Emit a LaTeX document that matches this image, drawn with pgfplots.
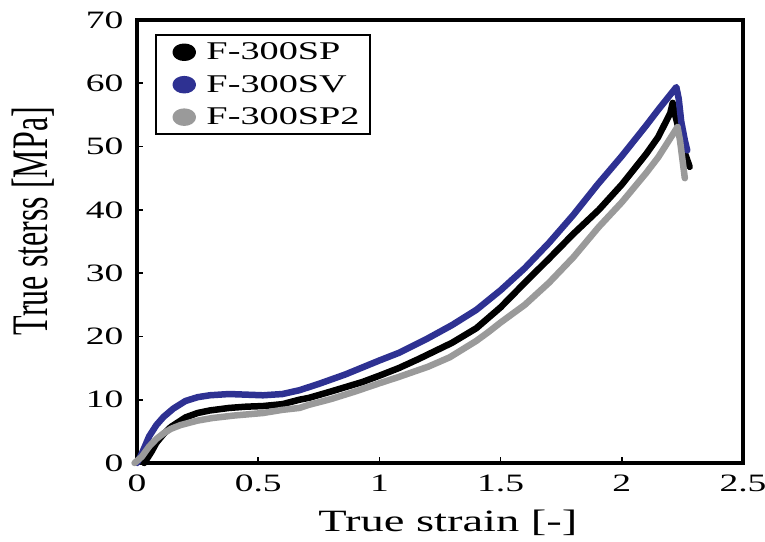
\documentclass[border=0pt]{standalone}
\usepackage{graphicx}
\usepackage{fontspec}
\setmainfont{Liberation Serif}[FakeStretch=1.5]
\newfontfamily\plainserif{Liberation Serif}
\usepackage{pgfplots}
\pgfplotsset{compat=1.18}
\definecolor{svblue}{HTML}{2E3192}
\definecolor{spgrey}{HTML}{9A9A9A}
\begin{document}
\begin{tikzpicture}
\useasboundingbox (-137pt,-78pt) rectangle (628pt,463pt);
\begin{axis}[
  scale only axis, width=606pt, height=443pt,
  at={(0,0)}, anchor=south west,
  xmin=0, xmax=2.5, ymin=0, ymax=70,
  xtick={0,0.5,1,1.5,2,2.5}, ytick={0,10,...,70},
  xtick pos=left, ytick pos=left, tick align=inside,
  major tick length=6pt,
  every tick/.style={line width=1.6pt, black},
  axis line style={line width=3.2pt},
  clip=false,
  /pgf/number format/assume math mode=true,
  tick label style={font=\fontsize{25}{25}\selectfont},
  yticklabel style={xshift=-10pt},
  xticklabel style={yshift=-8pt},
  xlabel={True strain [-]},
  xlabel style={font=\fontsize{31}{31}\selectfont, at={(axis description cs:0.513,-0.135)}, anchor=center},
  ylabel={\scalebox{1}[1.6]{\plainserif\fontsize{32}{32}\selectfont True sterss [MPa]}},
  ylabel style={at={(axis description cs:-0.172,0.546)}, anchor=center, rotate=0},
  legend image code/.code={\path (0pt,0pt) (34pt,0pt);\fill (17pt,0pt) ellipse [x radius=8.5pt, y radius=5.5pt];},
  legend style={draw=black, line width=2pt, at={(axis description cs:0,1)}, anchor=north west,
    xshift=18pt, yshift=-14pt, font=\fontsize{25.5}{25.5}\selectfont, row sep=10pt,
    inner xsep=8pt, inner ysep=6pt, nodes={inner sep=2pt}},
  legend cell align=left,
  every axis plot/.append style={line width=6.5pt, line join=round, line cap=round},
]
\addplot[black] coordinates {
(0.03,0) (0.06,1.8) (0.08,3.2) (0.11,4.6) (0.14,5.7) (0.2,7.2) (0.25,7.9) (0.3,8.3) (0.38,8.7) (0.45,8.9) (0.52,9.0) (0.6,9.3) (0.67,10.0) (0.71,10.3) (0.8,11.3) (0.93,12.8) (1.0,13.8) (1.08,15.0) (1.16,16.4) (1.3,19.0) (1.4,21.3) (1.5,24.6) (1.6,28.5) (1.7,32.3) (1.8,36.2) (1.905,40.0) (2.0,44.0) (2.1,48.8) (2.15,51.5) (2.2,55.3) (2.21,56.9) (2.22,55) (2.24,52) (2.26,49) (2.28,46.8)
};
\addlegendentry{F-300SP}
\addplot[svblue] coordinates {
(0,0) (0.02,1.5) (0.05,4.2) (0.08,6.0) (0.11,7.3) (0.15,8.6) (0.2,9.8) (0.25,10.4) (0.3,10.7) (0.38,10.9) (0.45,10.8) (0.52,10.7) (0.6,10.9) (0.67,11.5) (0.75,12.5) (0.86,14.0) (1.0,16.2) (1.08,17.4) (1.2,19.7) (1.3,21.8) (1.4,24.2) (1.5,27.3) (1.6,30.8) (1.7,34.8) (1.8,39.2) (1.9,44.0) (2.0,48.5) (2.1,53.3) (2.15,55.8) (2.2,58.2) (2.225,59.4) (2.235,57.5) (2.245,54) (2.26,51) (2.27,49.4)
};
\addlegendentry{F-300SV}
\addplot[spgrey] coordinates {
(-0.01,0) (0.02,1.0) (0.05,2.6) (0.08,3.8) (0.11,4.7) (0.14,5.4) (0.18,6.0) (0.25,6.7) (0.31,7.1) (0.4,7.5) (0.52,7.9) (0.6,8.4) (0.67,8.7) (0.71,9.2) (0.8,10.1) (0.9,11.3) (1.0,12.6) (1.08,13.6) (1.2,15.2) (1.29,16.7) (1.4,19.3) (1.45,20.7) (1.5,22.2) (1.6,25.0) (1.7,28.5) (1.8,32.5) (1.905,37.3) (2.0,41.2) (2.1,45.8) (2.15,48.3) (2.2,51.3) (2.23,53.1) (2.24,51) (2.25,48) (2.26,45)
};
\addlegendentry{F-300SP2}
\end{axis}
\end{tikzpicture}
\end{document}
